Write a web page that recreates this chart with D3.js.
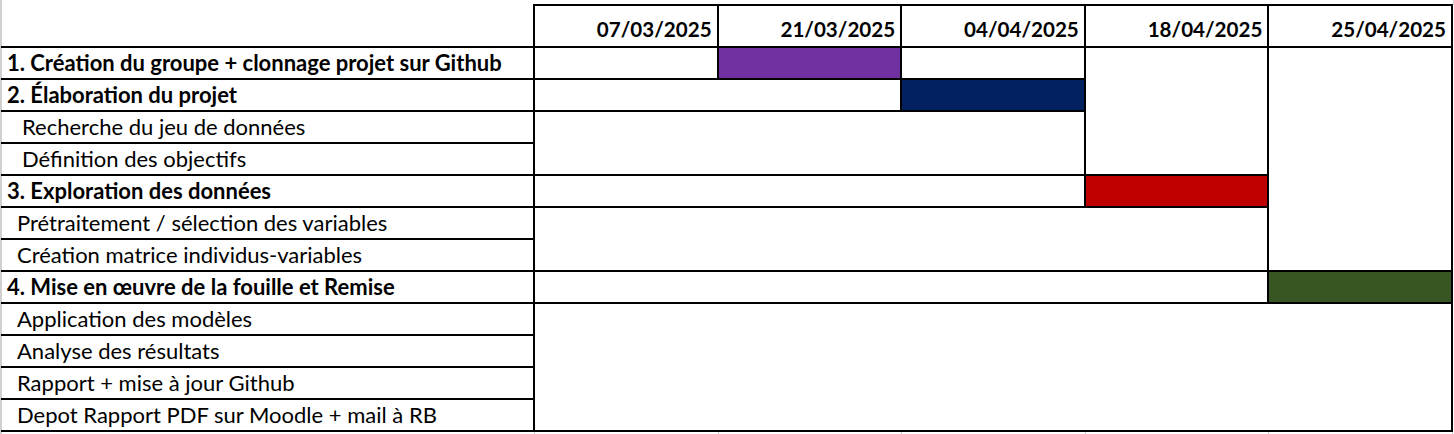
<!DOCTYPE html>
<html><head><meta charset="utf-8">
<script src="https://cdn.jsdelivr.net/npm/d3@7"></script>
<style>body{margin:0;background:#fff}svg{display:block}</style>
</head><body><svg id="c" width="1454" height="434"></svg>
<script>
// ---- data ----
const dates = ["07/03/2025", "21/03/2025", "04/04/2025", "18/04/2025", "25/04/2025"];
const tasks = [
  "1. Création du groupe + clonnage projet sur Github",
  "2. Élaboration du projet",
  "   Recherche du jeu de données",
  "   Définition des objectifs",
  "3. Exploration des données",
  "  Prétraitement / sélection des variables",
  "  Création matrice individus-variables",
  "4. Mise en œuvre de la fouille et Remise",
  "  Application des modèles",
  "  Analyse des résultats",
  "  Rapport + mise à jour Github",
  "  Depot Rapport PDF sur Moodle + mail à RB"
];
const isSection = [true, true, false, false, true, false, false, true, false, false, false, false];
const sectionBarDate = ["21/03/2025", "04/04/2025", "18/04/2025", "25/04/2025"];
const sectionColors = ["#7030A0", "#002060", "#C00000", "#375623"];

// ---- layout ----
const W = 1454, H = 434;
const labelLeft = 2, tableLeft = 534, tableRight = 1452;
const headTop = 5, headBottom = 47, rowH = 32;
const fontFam = "Lato, 'Open Sans', sans-serif";
const fsLabel = 22, fsHead = 20.6, spaceW = 5;

const svg = d3.select("#c");
svg.append("rect").attr("width", W).attr("height", H).attr("fill", "#fff");

const x = d3.scaleBand().domain(dates).range([tableLeft, tableRight]).paddingInner(0).paddingOuter(0);
const y = d3.scaleBand().domain(d3.range(tasks.length)).range([headBottom, headBottom + rowH * tasks.length]);
const bottom = y.range()[1];
const colEdge = j => Math.round(tableLeft + j * x.bandwidth());
const rowTop = i => Math.round(y(i));
const rowBot = i => Math.round(y(i) + y.bandwidth());

// sections
const secRows = tasks.map((t, i) => i).filter(i => isSection[i]);
const sections = secRows.map((r, s) => {
  const end = s < secRows.length - 1 ? secRows[s + 1] - 1 : tasks.length - 1;
  return { row: r, end, k: dates.indexOf(sectionBarDate[s]), color: sectionColors[s] };
});

// faint excel gridlines (outside table)
const g0 = svg.append("g").attr("stroke", "#d0d0d0").attr("stroke-width", 1);
g0.append("line").attr("x1", 1).attr("x2", 1).attr("y1", 0).attr("y2", H).attr("stroke-width", 2);
d3.range(dates.length + 1).forEach(j => {
  g0.append("line").attr("x1", colEdge(j) + 0.5).attr("x2", colEdge(j) + 0.5).attr("y1", bottom).attr("y2", H);
});
g0.append("line").attr("x1", tableRight + 1.5).attr("x2", tableRight + 1.5).attr("y1", 0).attr("y2", headTop);

// bars
svg.append("g").selectAll("rect").data(sections).join("rect")
  .attr("x", d => x(dates[d.k]))
  .attr("y", d => y(d.row))
  .attr("width", x.bandwidth())
  .attr("height", y.bandwidth())
  .attr("fill", d => d.color);

// borders
const lines = [];
const H_ = (x1, x2, yy) => lines.push([x1, yy, x2, yy]);
const V_ = (xx, y1, y2) => lines.push([xx, y1, xx, y2]);
d3.range(tasks.length).forEach(i => H_(labelLeft, tableLeft, rowTop(i)));
H_(labelLeft, tableLeft, bottom);
H_(tableLeft, tableRight, headTop);
H_(tableLeft, tableRight, headBottom);
d3.range(dates.length + 1).forEach(j => V_(colEdge(j), headTop, headBottom));
V_(tableLeft, headTop, bottom);
sections.forEach(s => {
  const right = colEdge(s.k + 1);
  H_(tableLeft, right, rowTop(s.row));
  H_(tableLeft, right, rowBot(s.row));
  H_(tableLeft, right, rowBot(s.end));
  V_(colEdge(s.k), headTop, rowBot(s.row));
  V_(right, headTop, rowBot(s.end));
});
svg.append("g").selectAll("line").data(lines).join("line")
  .attr("x1", d => d[0] - (d[1] === d[3] ? 1 : 0)).attr("y1", d => d[1] - (d[0] === d[2] ? 1 : 0))
  .attr("x2", d => d[2] + (d[1] === d[3] ? 1 : 0)).attr("y2", d => d[3] + (d[0] === d[2] ? 1 : 0))
  .attr("stroke", "#000").attr("stroke-width", 2);

// header labels
svg.append("g").selectAll("text").data(dates).join("text")
  .attr("x", d => x(d) + x.bandwidth() - 6)
  .attr("y", headBottom - 10)
  .attr("text-anchor", "end")
  .attr("font-family", fontFam).attr("font-weight", 700).attr("font-size", fsHead)
  .attr("fill", "#000")
  .text(d => d);

// task labels
svg.append("g").selectAll("text").data(tasks).join("text")
  .attr("x", d => 7 + (d.match(/^ */)[0].length) * spaceW)
  .attr("y", (d, i) => rowBot(i) - 8)
  .attr("font-family", fontFam)
  .attr("font-weight", (d, i) => isSection[i] ? 700 : 400)
  .attr("font-size", fsLabel)
  .attr("fill", "#000")
  .text(d => d.trim());
</script></body></html>
